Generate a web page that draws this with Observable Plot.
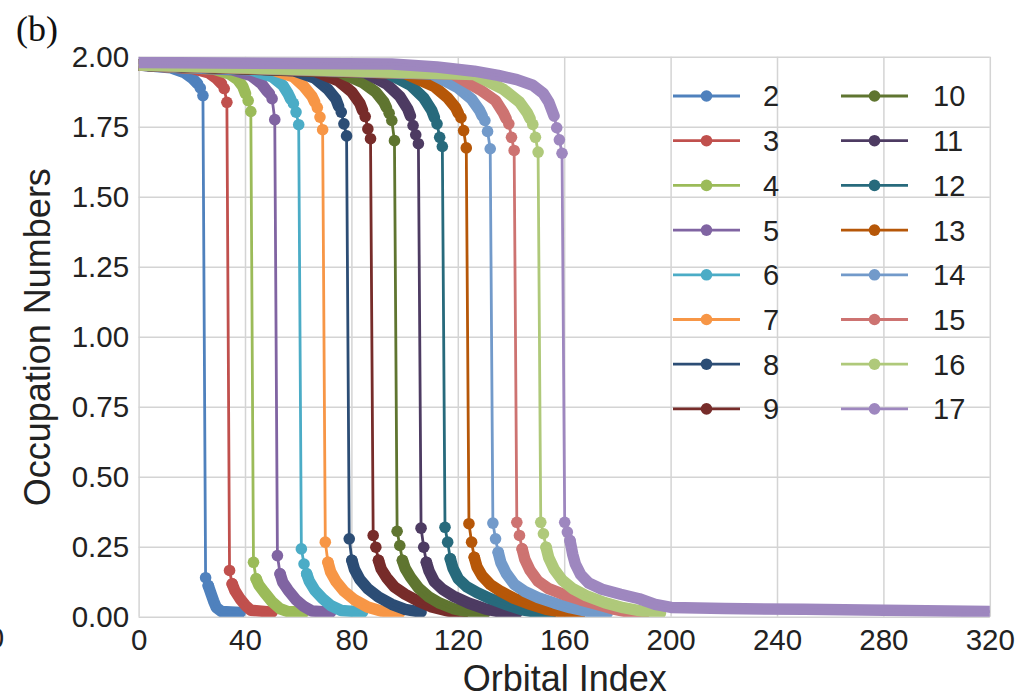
<!DOCTYPE html>
<html>
<head>
<meta charset="utf-8">
<script src="https://cdn.jsdelivr.net/npm/d3@7"></script>
<script src="https://cdn.jsdelivr.net/npm/@observablehq/plot@0.6"></script>
<style>
  html, body { margin: 0; padding: 0; background: #fff; }
  #wrap { position: relative; width: 1021px; height: 696px; overflow: hidden; background: #fff; }
  #wrap > svg { position: absolute; left: 0; top: 0; }
  .tag { position: absolute; font-family: "Liberation Serif", "Times New Roman", serif; color: #111; line-height: 1; }
</style>
</head>
<body>
<div id="wrap">
  <div class="tag" style="left:16px; top:11px; font-size:36px;">(b)</div>
  <div class="tag" style="left:-12px; top:624px; font-size:29px; font-family:'Liberation Sans', Arial, sans-serif; color:#222;">0</div>
</div>
<script>
// ---------------- data ----------------
const seriesNames = ["2","3","4","5","6","7","8","9","10","11","12","13","14","15","16","17"];
const colors = ["#4f81bd","#c0504d","#9bbb59","#8064a2","#4bacc6","#f79646","#2c4d75","#772c2a",
                "#5f7530","#4d3b62","#276a7c","#b65708","#729aca","#cd7371","#afc97a","#9e87bf"];
const xTicks = [0, 40, 80, 120, 160, 200, 240, 280, 320];
const yTicks = [0, 0.25, 0.5, 0.75, 1.0, 1.25, 1.5, 1.75, 2.0];

// [orbital index, occupation] — dense plateau before the drop
const upperBand = [
  [[0,1.972],[12,1.962],[17,1.945],[20,1.925],[22,1.905]],
  [[0,1.972],[20,1.96],[26,1.945],[29,1.925],[31,1.905]],
  [[0,1.972],[28,1.958],[34,1.94],[37,1.92],[39,1.895],[40,1.87]],
  [[0,1.972],[35,1.955],[42,1.935],[46,1.905],[48,1.88],[49,1.87]],
  [[0,1.972],[42,1.955],[50,1.93],[54,1.9],[56,1.87],[57,1.85]],
  [[0,1.972],[50,1.955],[58,1.93],[62,1.895],[65,1.86],[66,1.84]],
  [[0,1.972],[58,1.952],[66,1.925],[71,1.885],[74,1.85],[75,1.825]],
  [[0,1.972],[66,1.95],[75,1.915],[80,1.875],[83,1.835],[84,1.81]],
  [[0,1.972],[75,1.948],[84,1.91],[89,1.875],[92,1.84],[93,1.82]],
  [[0,1.972],[85,1.945],[93,1.905],[98,1.86],[101,1.815],[102,1.79]],
  [[0,1.972],[93,1.945],[102,1.9],[107,1.855],[110,1.81],[111,1.785]],
  [[0,1.972],[100,1.942],[111,1.895],[116,1.855],[119,1.82],[120,1.8]],
  [[0,1.972],[110,1.94],[120,1.89],[125,1.85],[128,1.81],[129,1.79]],
  [[0,1.972],[118,1.94],[128,1.885],[134,1.845],[137,1.8],[138,1.78]],
  [[0,1.972],[126,1.938],[137,1.885],[143,1.84],[146,1.8],[147,1.78]],
  [[0,1.981],[95,1.976],[112,1.965],[126,1.95],[135,1.935],[142,1.92],[148,1.9],[152,1.87],[154,1.84],[155,1.815],[156,1.79]]
];

// individually visible markers around the drop
const dropPoints = [
  [[23,1.89],[24,1.863],[25,0.141],[26,0.113]],
  [[32,1.888],[33,1.839],[34,0.167],[35,0.119]],
  [[41,1.845],[42,1.806],[43,0.196],[44,0.137]],
  [[50,1.852],[51,1.777],[52,0.22],[53,0.155]],
  [[58,1.835],[59,1.804],[60,1.759],[61,0.244],[62,0.19],[63,0.155]],
  [[67,1.82],[68,1.786],[69,1.741],[70,0.268],[71,0.196]],
  [[76,1.804],[77,1.762],[78,1.719],[79,0.28],[80,0.203]],
  [[85,1.788],[86,1.744],[87,1.709],[88,0.292],[89,0.25],[90,0.203]],
  [[94,1.8],[95,1.774],[96,1.702],[97,0.307],[98,0.256],[99,0.203]],
  [[103,1.756],[104,1.723],[105,1.691],[106,0.318],[107,0.25],[108,0.196]],
  [[112,1.762],[113,1.714],[114,1.681],[115,0.321],[116,0.268],[117,0.209]],
  [[121,1.784],[122,1.738],[123,1.676],[124,0.334],[125,0.268],[126,0.214]],
  [[130,1.774],[131,1.735],[132,1.673],[133,0.336],[134,0.28],[135,0.232]],
  [[139,1.762],[140,1.714],[141,1.667],[142,0.339],[143,0.292],[144,0.244]],
  [[148,1.76],[149,1.714],[150,1.661],[151,0.339],[152,0.298],[153,0.25]],
  [[157,1.748],[158,1.705],[159,1.657],[160,0.339],[161,0.304],[162,0.274]]
];

// dense tail after the drop
const tailBand = [
  [[26,0.113],[27,0.085],[28,0.058],[29,0.035],[31,0.02],[38,0.017]],
  [[35,0.119],[36,0.095],[38,0.065],[40,0.042],[42,0.025],[50,0.018]],
  [[44,0.137],[45,0.115],[47,0.09],[50,0.055],[53,0.03],[56,0.02],[62,0.018]],
  [[53,0.155],[54,0.125],[56,0.097],[59,0.062],[62,0.038],[65,0.022],[72,0.018]],
  [[63,0.155],[64,0.128],[66,0.097],[69,0.066],[72,0.042],[76,0.024],[84,0.018]],
  [[71,0.196],[72,0.162],[74,0.128],[77,0.093],[81,0.062],[86,0.036],[91,0.022],[98,0.016]],
  [[80,0.203],[81,0.17],[83,0.135],[86,0.102],[90,0.072],[95,0.046],[100,0.028],[106,0.018]],
  [[90,0.203],[91,0.172],[93,0.142],[96,0.108],[100,0.082],[105,0.057],[110,0.037],[116,0.022],[122,0.016]],
  [[99,0.203],[100,0.175],[102,0.143],[105,0.105],[109,0.072],[113,0.05],[118,0.031],[124,0.018],[130,0.015]],
  [[108,0.196],[109,0.165],[111,0.127],[114,0.1],[118,0.076],[124,0.05],[130,0.03],[136,0.018],[142,0.015]],
  [[117,0.209],[118,0.175],[120,0.137],[123,0.11],[127,0.088],[132,0.066],[138,0.045],[144,0.026],[150,0.017],[155,0.015]],
  [[126,0.214],[127,0.18],[129,0.147],[132,0.117],[136,0.092],[141,0.067],[147,0.046],[153,0.028],[160,0.017],[166,0.015]],
  [[135,0.232],[136,0.195],[138,0.157],[141,0.118],[145,0.092],[150,0.07],[156,0.051],[162,0.034],[169,0.02],[176,0.015]],
  [[144,0.244],[145,0.207],[147,0.167],[150,0.128],[154,0.102],[160,0.08],[166,0.062],[172,0.046],[178,0.03],[184,0.018],[190,0.015]],
  [[153,0.25],[154,0.212],[156,0.172],[159,0.133],[163,0.102],[168,0.077],[175,0.052],[182,0.034],[190,0.02],[196,0.015]],
  [[162,0.274],[163,0.225],[164,0.19],[166,0.152],[169,0.122],[174,0.1],[181,0.082],[188,0.066],[194,0.046],[200,0.035],[220,0.031],[250,0.028],[280,0.025],[320,0.02]]
];

// ---------------- chart ----------------
const W = 1021, H = 696;
const ML = 138.6, MR = 31.2, MT = 56.7, MB = 79.3;
const font = "'Liberation Sans', Arial, Helvetica, sans-serif";
const X = d => d[0], Y = d => d[1];

const marks = [
  Plot.gridX(xTicks, {stroke: "#d4d4d4", strokeOpacity: 1, strokeWidth: 1.5}),
  Plot.gridY(yTicks, {stroke: "#d4d4d4", strokeOpacity: 1, strokeWidth: 1.5})
];

seriesNames.forEach((name, i) => {
  const c = colors[i];
  const all = upperBand[i].concat(dropPoints[i], tailBand[i]);
  marks.push(
    Plot.line(upperBand[i], {x: X, y: Y, stroke: c, strokeWidth: 11.5, strokeLinecap: "round", strokeLinejoin: "round", clip: true}),
    Plot.line(tailBand[i], {x: X, y: Y, stroke: c, strokeWidth: 11.5, strokeLinecap: "round", strokeLinejoin: "round", clip: true}),
    Plot.line(all, {x: X, y: Y, stroke: c, strokeWidth: 2.8, clip: true}),
    Plot.dot(dropPoints[i], {x: X, y: Y, r: 5.8, fill: c, stroke: "none", clip: true})
  );
});

marks.push(
  Plot.axisX({ticks: xTicks, tickSize: 0, tickPadding: 12, fontSize: 29.5, label: null}),
  Plot.axisY({ticks: yTicks, tickSize: 0, tickPadding: 10, fontSize: 29.5, label: null, tickFormat: d3.format(".2f")}),
  Plot.text(["Orbital Index"], {frameAnchor: "bottom", dy: 62, fontSize: 36, lineAnchor: "middle", textAnchor: "middle"}),
  Plot.text(["Occupation Numbers"], {frameAnchor: "left", dx: -101, rotate: -90, fontSize: 36, lineAnchor: "middle", textAnchor: "middle"})
);

const chart = Plot.plot({
  width: W, height: H,
  marginLeft: ML, marginRight: MR, marginTop: MT, marginBottom: MB,
  x: {domain: [0, 320]},
  y: {domain: [0, 2]},
  style: {fontFamily: font, fontSize: "28px", color: "#222", background: "transparent", overflow: "visible"},
  marks
});
const wrap = document.getElementById("wrap");
wrap.insertBefore(chart, wrap.firstChild);

// ---------------- legend (overlay) ----------------
const leg = d3.select(wrap).append("svg")
  .attr("width", W).attr("height", H)
  .style("position", "absolute").style("left", 0).style("top", 0)
  .style("pointer-events", "none");
const colX = [[673, 740, 763], [841, 908, 933]];
seriesNames.forEach((name, i) => {
  const col = i < 8 ? 0 : 1, row = i % 8;
  const cy = 96 + 44.7 * row;
  const [x0, x1, tx] = colX[col];
  const g = leg.append("g");
  g.append("line").attr("x1", x0).attr("x2", x1).attr("y1", cy).attr("y2", cy)
    .attr("stroke", colors[i]).attr("stroke-width", 2.8);
  g.append("circle").attr("cx", (x0 + x1) / 2).attr("cy", cy).attr("r", 5.8).attr("fill", colors[i]);
  g.append("text").attr("x", tx).attr("y", cy).attr("dy", "0.36em")
    .attr("font-family", font).attr("font-size", 29).attr("fill", "#222").text(name);
});
</script>
</body>
</html>
